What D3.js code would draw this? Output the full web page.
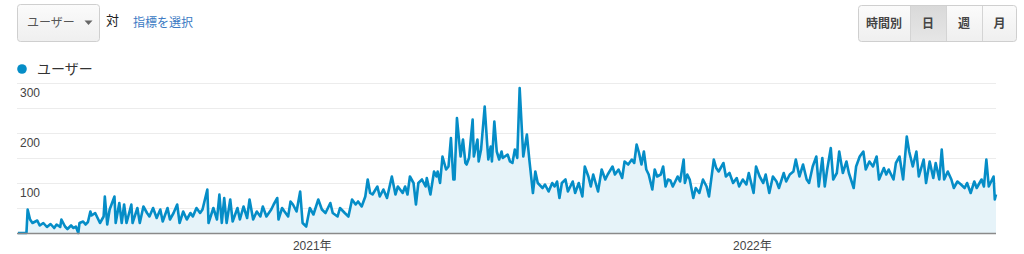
<!DOCTYPE html>
<html><head><meta charset="utf-8">
<script src="https://cdn.jsdelivr.net/npm/d3@7"></script>
<style>
html,body{margin:0;padding:0;background:#fff;}
svg{display:block;font-family:Arial,"Liberation Sans","Noto Sans CJK JP",sans-serif;}
</style></head>
<body>
<svg id="chart" width="1024" height="254"></svg>
<script>
// ---- DATA ----
const startDate = "2020-05-02";
const dayOffsets = [0,7,8,10,12,16,18,21,24,27,30,32,35,36,39,41,44,46,48,50,51,54,56,58,60,61,64,66,68,71,72,74,76,80,81,84,86,88,90,94,95,99,101,104,107,109,112,115,118,120,124,126,129,132,134,137,140,143,145,148,151,153,157,158,162,165,167,169,171,173,176,178,182,184,187,190,192,195,198,201,203,206,210,212,215,216,219,221,224,226,228,231,234,236,239,242,245,249,252,255,259,261,265,267,271,274,277,280,282,285,288,290,292,294,298,300,303,306,310,313,315,319,321,323,325,328,330,332,335,338,339,342,345,347,348,350,352,355,357,359,361,362,364,367,369,371,372,374,377,378,381,382,384,387,389,390,392,393,395,397,399,401,402,406,408,410,412,414,416,419,422,424,427,429,431,435,437,440,443,445,447,449,451,454,456,460,462,465,468,470,473,475,477,479,481,484,487,489,493,495,498,501,503,506,509,511,513,515,517,519,521,523,526,528,530,533,535,537,539,541,543,547,549,552,553,555,557,560,562,565,568,571,573,577,579,581,585,587,590,593,596,598,601,604,606,610,612,615,618,620,623,626,629,631,635,637,640,643,645,648,651,654,656,659,662,664,667,669,671,674,676,679,681,684,687,689,693,695,698,701,703,706,709,712,714,718,720,722,726,728,731,734,737,739,742,745,747,751,753,756,759,761,764,766,768,771,774,776,779,782,785,787,790,793,795,799,801,803,805,809,810,811];
const users = [0,0,47,27,20,25,15,20,12,18,10,17,12,27,13,8,15,10,13,0,20,23,17,22,43,35,40,30,20,33,73,17,47,73,20,60,20,57,20,57,20,50,20,53,40,33,50,30,47,23,50,27,40,57,20,43,27,40,33,50,40,47,87,20,50,27,77,20,70,20,67,23,50,27,53,30,67,27,43,33,53,33,47,57,70,27,50,43,33,63,57,43,83,20,13,50,37,67,47,40,60,40,33,50,40,33,67,57,63,53,73,107,80,77,93,73,87,70,113,77,93,80,93,77,113,100,57,100,107,93,110,77,123,113,123,100,153,127,133,190,107,107,230,153,187,140,137,150,227,153,187,143,167,253,180,147,173,143,223,163,147,163,150,157,143,140,167,150,290,153,197,147,80,123,100,90,97,83,100,93,103,70,100,107,83,103,80,100,73,133,113,93,117,100,83,127,107,117,133,117,127,110,143,137,147,140,177,160,137,163,127,117,87,127,113,117,133,93,107,105,93,113,103,147,100,117,107,70,90,80,107,93,73,147,130,123,140,113,120,100,110,93,107,97,120,80,133,113,100,117,80,113,103,90,120,103,117,123,147,113,137,107,100,133,153,93,150,93,127,170,107,120,163,120,143,120,90,133,153,163,127,143,133,153,107,130,117,127,107,140,153,107,193,163,133,163,113,147,100,143,110,140,107,167,107,123,107,90,103,97,90,100,80,103,90,107,93,147,93,113,67,77];
const yTicks = [100, 200, 300];
const yGrid = [50, 100, 150, 200, 250, 300];
const xTickDates = ["2021-01-01", "2022-01-01"];
const xTickLabels = ["2021年", "2022年"];
const seriesName = "ユーザー";
const periodButtons = ["時間別", "日", "週", "月"];
const activeButton = "日";

// ---- CHART ----
const svg = d3.select("#chart");
const parse = d3.utcParse("%Y-%m-%d");
const t0 = parse(startDate);
const data = dayOffsets.map((d, i) => ({date: d3.utcDay.offset(t0, d), v: users[i]}));

const x = d3.scaleUtc()
  .domain([t0, d3.utcDay.offset(t0, d3.max(dayOffsets))])
  .range([18, 996]);
const y = d3.scaleLinear().domain([0, 300]).range([233, 83]);

// gridlines
svg.append("g").selectAll("line").data(yGrid).join("line")
  .attr("x1", 17).attr("x2", 996)
  .attr("y1", d => Math.round(y(d)) + 0.5).attr("y2", d => Math.round(y(d)) + 0.5)
  .attr("stroke", "#ececec").attr("stroke-width", 1);

// area + line
const area = d3.area().x(d => x(d.date)).y0(y(0)).y1(d => y(d.v));
const line = d3.line().x(d => x(d.date)).y(d => y(d.v));
svg.append("path").datum(data).attr("d", area).attr("fill", "#e6f3f9");
svg.append("path").datum(data).attr("d", line)
  .attr("fill", "none").attr("stroke", "#058dc7").attr("stroke-width", 2.6)
  .attr("stroke-linejoin", "round");

// baseline
svg.append("line").attr("x1", 17).attr("x2", 996)
  .attr("y1", y(0) + 0.5).attr("y2", y(0) + 0.5)
  .attr("stroke", "#8a8a8a").attr("stroke-width", 1.5);

// y labels
svg.append("g").selectAll("text").data(yTicks).join("text")
  .attr("x", 20).attr("y", d => y(d) + 14)
  .attr("font-size", 12).attr("fill", "#444")
  .text(d => d3.format("d")(d));

// x labels
svg.append("g").selectAll("text").data(xTickDates).join("text")
  .attr("x", d => x(parse(d))).attr("y", 250)
  .attr("text-anchor", "middle").attr("font-size", 12).attr("fill", "#444")
  .text((d, i) => xTickLabels[i]);

// legend
svg.append("circle").attr("cx", 22).attr("cy", 69).attr("r", 4.8).attr("fill", "#058dc7");
svg.append("text").attr("x", 37).attr("y", 74).attr("font-size", 14).attr("fill", "#333")
  .attr("font-family", "'Noto Sans CJK JP',sans-serif").text(seriesName);

// top-left controls
const defs = svg.append("defs");
const g1 = defs.append("linearGradient").attr("id", "btnGrad").attr("x1", 0).attr("x2", 0).attr("y1", 0).attr("y2", 1);
g1.append("stop").attr("offset", "0%").attr("stop-color", "#fbfbfb");
g1.append("stop").attr("offset", "100%").attr("stop-color", "#efefef");
const g2 = defs.append("linearGradient").attr("id", "actGrad").attr("x1", 0).attr("x2", 0).attr("y1", 0).attr("y2", 1);
g2.append("stop").attr("offset", "0%").attr("stop-color", "#d9d9d9");
g2.append("stop").attr("offset", "100%").attr("stop-color", "#e6e6e6");

svg.append("rect").attr("x", 17.5).attr("y", 4.5).attr("width", 82).attr("height", 37).attr("rx", 3)
  .attr("fill", "url(#btnGrad)").attr("stroke", "#cfcfcf");
svg.append("text").attr("x", 27).attr("y", 26.5).attr("font-size", 12).attr("fill", "#555")
  .attr("font-family", "'Noto Sans CJK JP',sans-serif").text(seriesName);
svg.append("path").attr("d", "M84.5,20.5 L92.5,20.5 L88.5,25 Z").attr("fill", "#666");
svg.append("text").attr("x", 106).attr("y", 25).attr("font-size", 13).attr("fill", "#222")
  .attr("font-family", "'Noto Sans CJK JP',sans-serif").text("対");
svg.append("text").attr("x", 133).attr("y", 27).attr("font-size", 12).attr("fill", "#3b7ac3")
  .attr("font-family", "'Noto Sans CJK JP',sans-serif").text("指標を選択");

// top-right button group
const btnX = [858, 910, 946, 982, 1017];
svg.append("rect").attr("x", 858.5).attr("y", 5.5).attr("width", 158).attr("height", 36).attr("rx", 3)
  .attr("fill", "url(#btnGrad)").attr("stroke", "#cfcfcf");
periodButtons.forEach((b, i) => {
  if (b === activeButton) {
    svg.append("rect").attr("x", btnX[i] + 0.5).attr("y", 6).attr("width", btnX[i+1] - btnX[i]).attr("height", 35)
      .attr("fill", "url(#actGrad)");
  }
  if (i > 0) {
    svg.append("line").attr("x1", btnX[i] + 0.5).attr("x2", btnX[i] + 0.5).attr("y1", 6).attr("y2", 41)
      .attr("stroke", "#d4d4d4");
  }
  svg.append("text").attr("x", (btnX[i] + btnX[i+1]) / 2).attr("y", 27.5)
    .attr("text-anchor", "middle").attr("font-size", 12).attr("font-weight", "bold").attr("fill", "#444")
    .attr("font-family", "'Noto Sans CJK JP',sans-serif").text(b);
});
</script>
</body></html>
